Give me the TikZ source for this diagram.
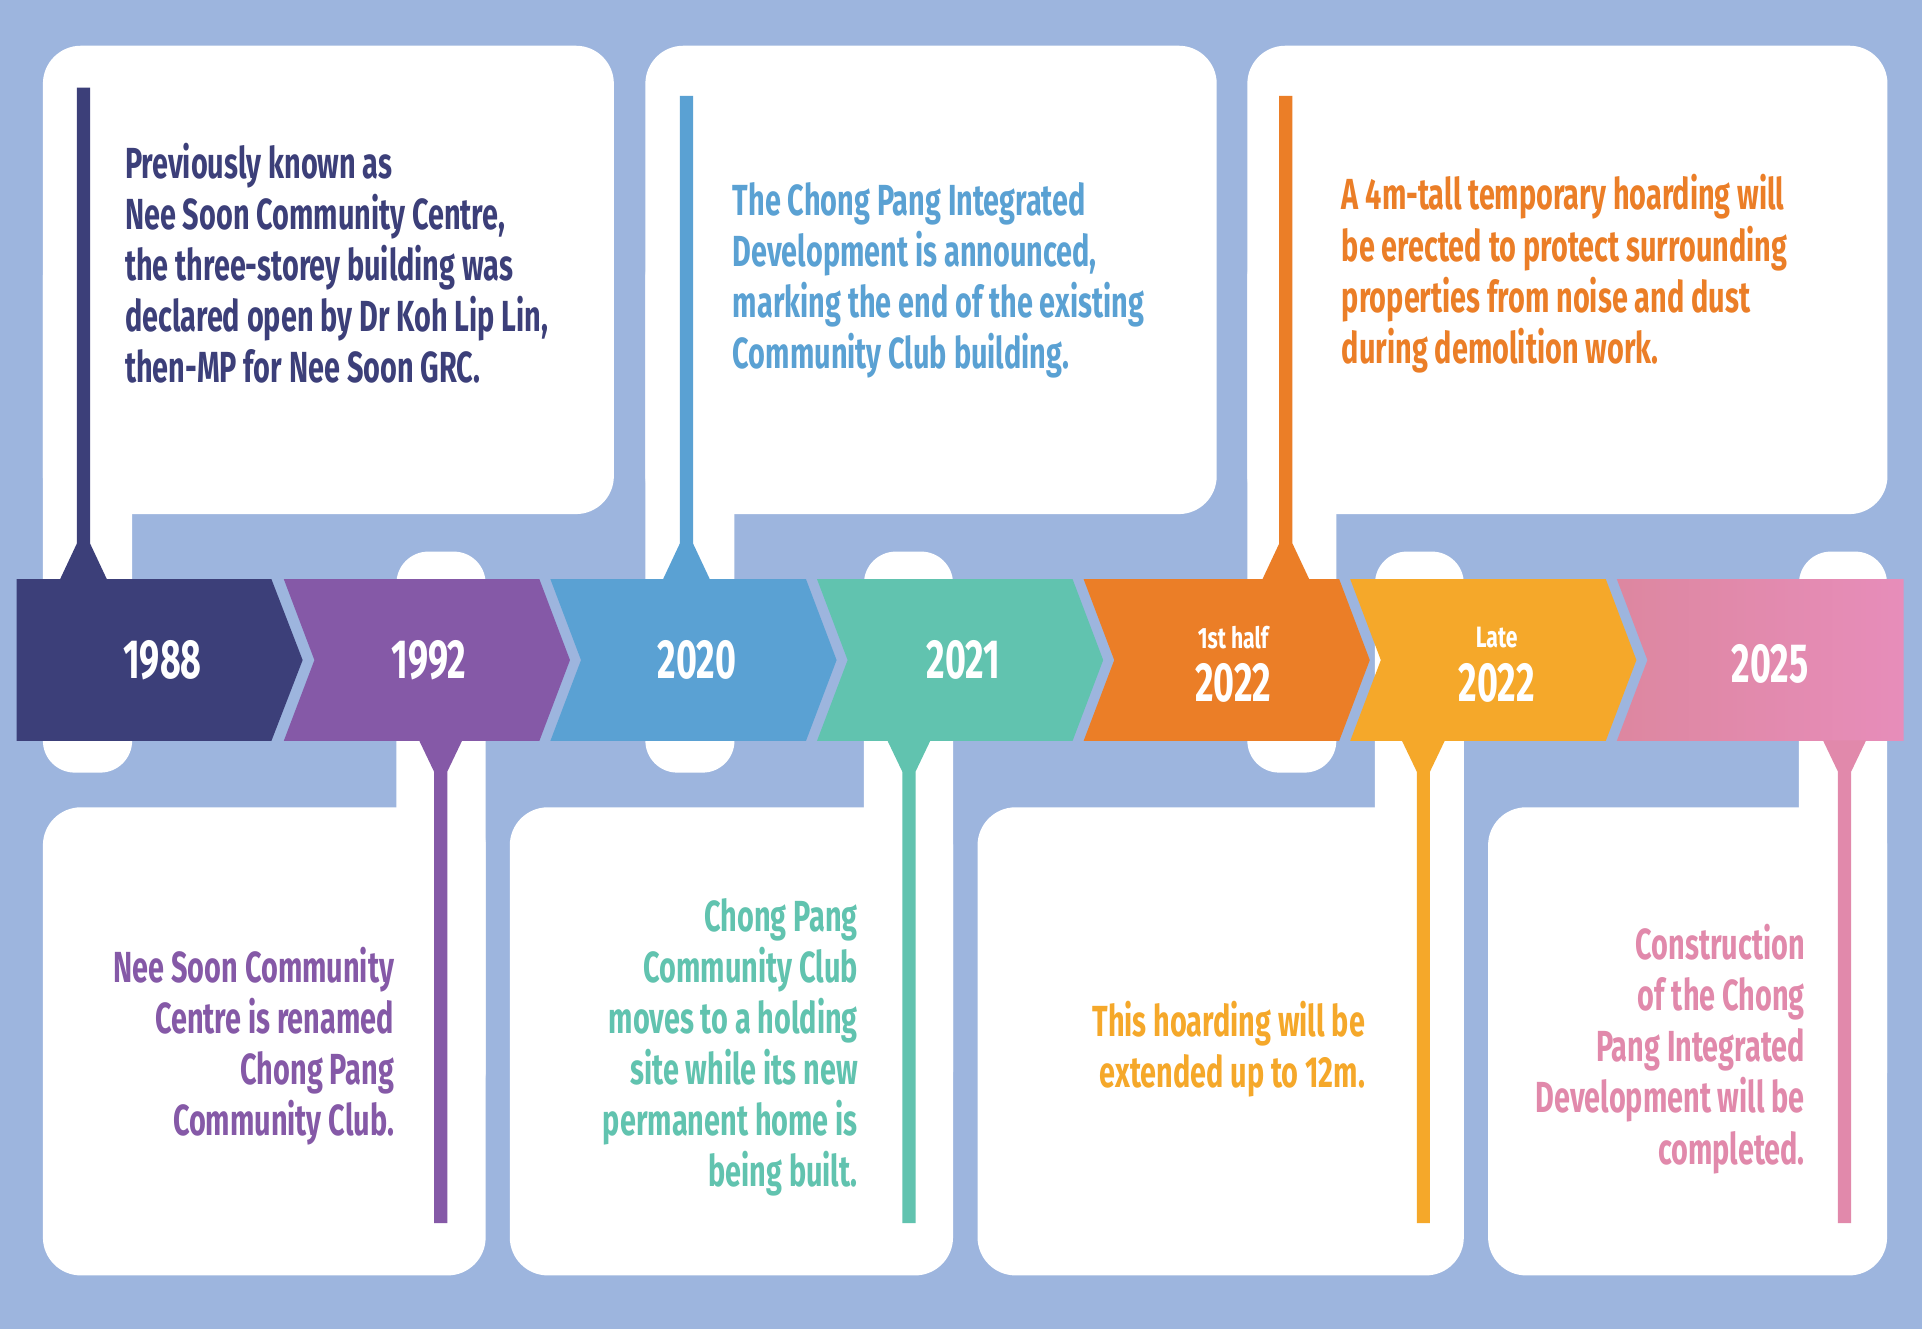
\documentclass[tikz,border=0pt]{standalone}
\usepackage{fontspec}
\newfontfamily\cardfont{Fira Sans}[FakeStretch=0.663]
\newfontfamily\yearfont{Fira Sans}[FakeStretch=0.65]
\newfontfamily\smallfont{Fira Sans}[FakeStretch=0.72]
\definecolor{bgblue}{HTML}{9DB5DE}
\definecolor{cnavy}{HTML}{3C3F79}
\definecolor{cpurple}{HTML}{8559A7}
\definecolor{cblue}{HTML}{5AA1D3}
\definecolor{cteal}{HTML}{61C3AF}
\definecolor{corange}{HTML}{EB7E27}
\definecolor{cyellow}{HTML}{F5A82A}
\definecolor{cpinkL}{HTML}{DD87A0}
\definecolor{cpinkR}{HTML}{E78DBA}
\definecolor{cpink}{HTML}{E189AB}
\begin{document}
\begin{tikzpicture}[x=1pt,y=-1pt,
  card/.style={fill=white, rounded corners=31},
  stem/.style={fill=white, rounded corners=26},
  body/.style={inner sep=0pt, font=\cardfont\bfseries\fontsize{35.5}{41.6}\selectfont},
  yearlbl/.style={inner sep=0pt, text=white, font=\yearfont\bfseries\fontsize{45}{50}\selectfont},
  smalllbl/.style={inner sep=0pt, text=white, font=\smallfont\bfseries\fontsize{24}{28}\selectfont}]

% background
\fill[bgblue] (0,0) rectangle (1568,1084);
\useasboundingbox (0,0) rectangle (1568,1084);

% upper cards with their stems reaching below the bar
\fill[card] (35,37.3) rectangle (500.8,419.4);
\fill[stem] (35,200) rectangle (107.8,630.3);
\fill[card] (526.5,37.3) rectangle (992.6,419.4);
\fill[stem] (526.5,200) rectangle (599.2,630.3);
\fill[card] (1017.6,37.3) rectangle (1539.8,419.4);
\fill[stem] (1017.6,200) rectangle (1090.2,630.3);

% lower cards with their stems reaching above the bar
\fill[card] (35,658.6) rectangle (396.2,1040.5);
\fill[stem] (323.4,450) rectangle (396.2,900);
\fill[card] (415.9,658.6) rectangle (777.5,1040.5);
\fill[stem] (704.8,450) rectangle (777.5,900);
\fill[card] (797.5,658.6) rectangle (1194.2,1040.5);
\fill[stem] (1121.7,450) rectangle (1194.2,900);
\fill[card] (1214,658.6) rectangle (1539.5,1040.5);
\fill[stem] (1467.6,450) rectangle (1539.5,900);

% timeline bar: one flat-start block, five chevrons, one flat-end block
\fill[cnavy] (13.5,472.4) -- (221.4,472.4) -- (246.9,538.5) -- (221.4,604.5) -- (13.5,604.5) -- cycle;
\foreach \k/\col in {1/cpurple,2/cblue,3/cteal,4/corange,5/cyellow}{
  \pgfmathsetmacro{\L}{231.5+217.5*(\k-1)}
  \fill[\col] (\L,472.4) -- ({\L+208.5},472.4) -- ({\L+233.5},538.5) -- ({\L+208.5},604.5)
     -- (\L,604.5) -- ({\L+25},538.5) -- cycle;
}
\shade[left color=cpinkL, right color=cpinkR] (1319,472.4) -- (1553,472.4) -- (1553,604.5)
   -- (1319,604.5) -- (1344,538.5) -- cycle;

% markers rising from the bar into the upper cards
\foreach \c/\top/\col in {68.1/71.4/cnavy, 560/78.3/cblue, 1049/78.3/corange}{
  \fill[\col] ({\c-5.4},\top) -- ({\c+5.4},\top) -- ({\c+5.4},443.4) -- ({\c+19.3},473)
     -- ({\c-19.3},473) -- ({\c-5.4},443.4) -- cycle;
}
% markers hanging from the bar into the lower cards
\foreach \c/\col in {359.5/cpurple, 741.5/cteal, 1161.2/cyellow, 1504.8/cpink}{
  \fill[\col] ({\c-17.6},604) -- ({\c+17.6},604) -- ({\c+5.4},629.5) -- ({\c+5.4},997.8)
     -- ({\c-5.4},997.8) -- ({\c-5.4},629.5) -- cycle;
}

% labels on the bar
\node[yearlbl] (y1988) at (132.6,538.5) {1988};
\node[yearlbl] (y1992) at (350,538.5) {1992};
\node[yearlbl] (y2020) at (568.5,538.5) {2020};
\node[yearlbl] (y2021) at (786,538.5) {2021};
\node[smalllbl] (h2022a) at (1006,520) {1st half};
\node[yearlbl] (y2022a) at (1006,557) {2022};
\node[smalllbl] (h2022b) at (1221,520) {Late};
\node[yearlbl] (y2022b) at (1221,557) {2022};
\node[yearlbl] (y2025) at (1444,541.5) {2025};

% card texts, one node per printed line
\foreach \t [count=\i] in {Previously known as, {Nee Soon Community Centre,},
    the three-storey building was, {declared open by Dr Koh Lip Lin,}, then-MP for Nee Soon GRC.}
  \node[body, text=cnavy, anchor=base west] (ta\i) at (101.8,{145.7+41.5*(\i-1)}) {\t};

\foreach \t [count=\i] in {The Chong Pang Integrated, {Development is announced,},
    marking the end of the existing, Community Club building.}
  \node[body, text=cblue, anchor=base west] (tc\i) at (597.7,{176.2+41.6*(\i-1)}) {\t};

\foreach \t [count=\i] in {A 4m-tall temporary hoarding will, be erected to protect surrounding,
    properties from noise and dust, during demolition work.}
  \node[body, text=corange, anchor=base west] (te\i) at (1094.6,{171.3+41.7*(\i-1)}) {\t};

\foreach \t [count=\i] in {Nee Soon Community, Centre is renamed, Chong Pang, Community Club.}
  \node[body, text=cpurple, anchor=base east] (tb\i) at (321.6,{801.4+41.6*(\i-1)}) {\t};

\foreach \t [count=\i] in {Chong Pang, Community Club, moves to a holding, site while its new,
    permanent home is, being built.}
  \node[body, text=cteal, anchor=base east] (td\i) at (700,{760+41.65*(\i-1)}) {\t};

\foreach \t [count=\i] in {This hoarding will be, extended up to 12m.}
  \node[body, text=cyellow, anchor=base east] (tf\i) at (1113.8,{845.7+41.6*(\i-1)}) {\t};

\foreach \t [count=\i] in {Construction, of the Chong, Pang Integrated, Development will be, completed.}
  \node[body, text=cpink, anchor=base east] (tg\i) at (1472.6,{782.6+41.75*(\i-1)}) {\t};

\end{tikzpicture}
\end{document}
